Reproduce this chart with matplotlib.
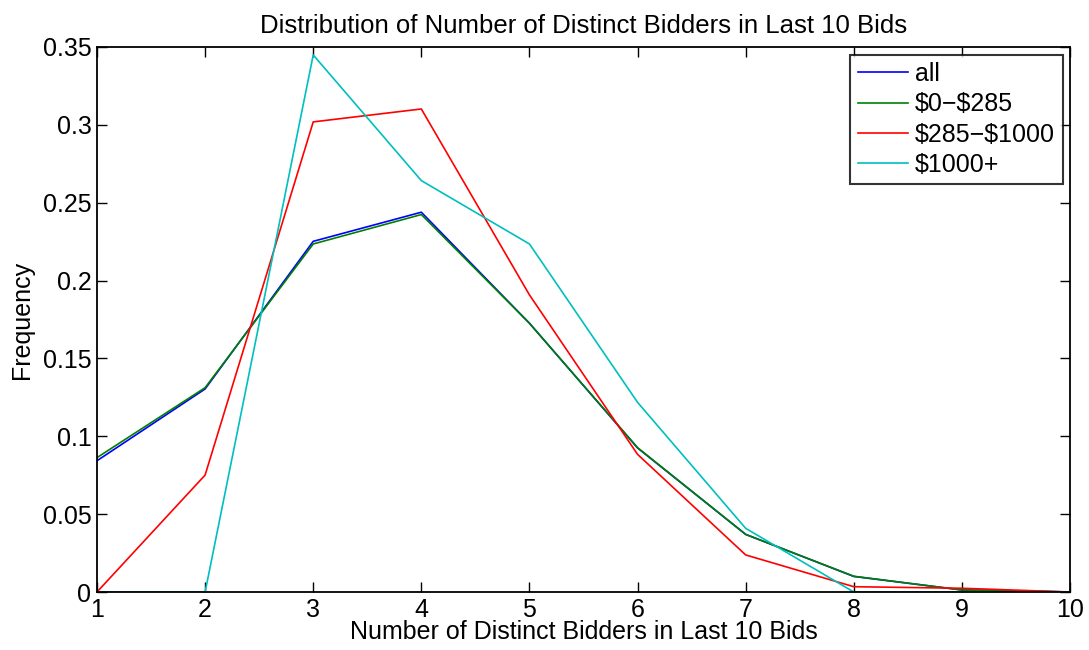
import matplotlib
matplotlib.use("Agg")
import matplotlib.pyplot as plt

plt.rcParams['font.family'] = ['Liberation Sans', 'DejaVu Sans']

x = [1, 2, 3, 4, 5, 6, 7, 8, 9, 10]
labels = ['all', r'\$0' + '\u2212' + r'\$285', r'\$285' + '\u2212' + r'\$1000', r'\$1000+']
all_vals = [0.0843, 0.1304, 0.2252, 0.2439, 0.1726, 0.0925, 0.0370, 0.0100, 0.0013, 0.0]
low_vals = [0.0863, 0.1312, 0.2235, 0.2424, 0.1726, 0.0927, 0.0370, 0.0101, 0.0013, 0.0]
mid_vals = [0.0, 0.0751, 0.3019, 0.3102, 0.1908, 0.0884, 0.0238, 0.0034, 0.0024, 0.0]
high_vals = [0.0, 0.0, 0.3449, 0.2642, 0.2235, 0.1218, 0.0409, 0.0, 0.0, 0.0]
colors = ['#0000ff', '#008000', '#ff0000', '#00bfbf']

fs = 18
fig = plt.figure(figsize=(10.89, 6.5), dpi=100)
ax = fig.add_axes([97/1089, 58/650, (1070-97)/1089, (592-47)/650])
for vals, lab, c in zip([all_vals, low_vals, mid_vals, high_vals], labels, colors):
    ax.plot(x, vals, color=c, lw=1.2, label=lab)

ax.set_xlim(1, 10)
ax.set_ylim(0, 0.35)
ax.set_xticks(x)
ax.set_yticks([0, 0.05, 0.1, 0.15, 0.2, 0.25, 0.3, 0.35])
ax.set_yticklabels(['0', '0.05', '0.1', '0.15', '0.2', '0.25', '0.3', '0.35'])
ax.tick_params(direction='in', top=True, right=True, labelsize=fs, length=7, width=1, pad=4)
for s in ax.spines.values():
    s.set_linewidth(1.3)
ax.set_xlabel('Number of Distinct Bidders in Last 10 Bids', fontsize=fs, labelpad=-1)
ax.set_ylabel('Frequency', fontsize=fs, labelpad=6)
ax.set_title('Distribution of Number of Distinct Bidders in Last 10 Bids', fontsize=18.5, pad=10)
leg = ax.legend(loc='upper right', fontsize=fs, frameon=True, fancybox=False, edgecolor='black',
                handlelength=2.0, handletextpad=0.3, borderaxespad=0.3, labelspacing=0.25,
                borderpad=0.3)
leg.get_frame().set_linewidth(1.5)
fig.savefig('out.png', dpi=100)
